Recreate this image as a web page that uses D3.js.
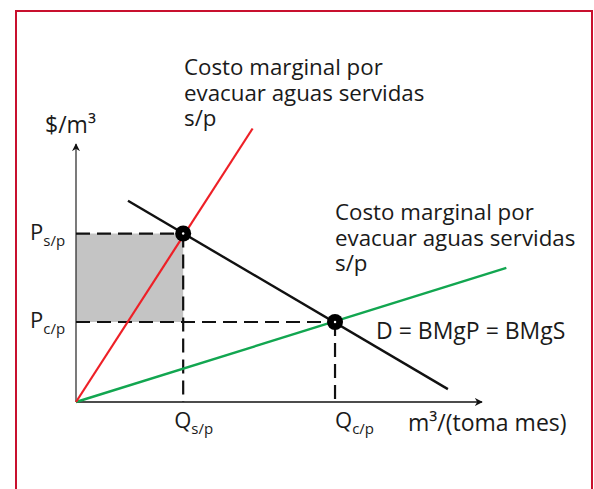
<!DOCTYPE html>
<html lang="es">
<head>
<meta charset="UTF-8">
<title>costo marginal</title>
<script src="https://d3js.org/d3.v7.min.js"></script>
<style>
  html, body { margin: 0; padding: 0; background: #fff; }
  text { font-family: "Open Sans", "Noto Sans", sans-serif; fill: #1a1a1a; }
</style>
</head>
<body>
<div id="chart"></div>
<script>
// data, in abstract units (0-100 on each axis)
var redLine = [[0, 0], [43.5, 106]];          // costo marginal s/p
var greenLine = [[0, 0], [106, 52]];          // costo marginal c/p
var demandLine = [[12.8, 78], [91.6, 5]];     // D = BMgP = BMgS
var qLabels = ["s/p", "c/p"];
var qValues = [26.4, 63.8];
var pValues = [65.3, 31];
var labelTop = ["Costo marginal por", "evacuar aguas servidas", "s/p"];
var labelRight = ["Costo marginal por", "evacuar aguas servidas", "s/p"];

var W = 594, H = 489;
var svg = d3.select("#chart").append("svg")
    .attr("width", W).attr("height", H);

// frame
svg.append("rect")
    .attr("x", 16).attr("y", 11)
    .attr("width", 576).attr("height", 600)
    .attr("fill", "none")
    .attr("stroke", "#c8102e")
    .attr("stroke-width", 2);

var x = d3.scaleLinear().domain([0, 100]).range([76, 482]);
var y = d3.scaleLinear().domain([0, 100]).range([402, 144]);

var line = d3.line()
    .x(function(d) { return x(d[0]); })
    .y(function(d) { return y(d[1]); });

// shaded area between prices
svg.append("rect")
    .attr("x", x(0))
    .attr("y", y(pValues[0]))
    .attr("width", x(qValues[0]) - x(0))
    .attr("height", y(pValues[1]) - y(pValues[0]))
    .attr("fill", "#c4c4c4");

// arrow marker
svg.append("defs").append("marker")
    .attr("id", "arr")
    .attr("viewBox", "0 0 10 10")
    .attr("refX", 9).attr("refY", 5)
    .attr("markerWidth", 8).attr("markerHeight", 8)
    .attr("markerUnits", "userSpaceOnUse")
    .attr("orient", "auto")
    .append("path")
    .attr("d", "M0,0 L10,5 L0,10 L3,5 Z")
    .attr("fill", "#111");

// axes
svg.append("line")
    .attr("x1", x(0)).attr("y1", y(0))
    .attr("x2", x(0)).attr("y2", 144)
    .attr("stroke", "#333").attr("stroke-width", 1.3)
    .attr("marker-end", "url(#arr)");
svg.append("line")
    .attr("x1", x(0)).attr("y1", y(0))
    .attr("x2", 482).attr("y2", y(0))
    .attr("stroke", "#111").attr("stroke-width", 1.6)
    .attr("marker-end", "url(#arr)");

// dashed guides
qValues.forEach(function(q, i) {
    svg.append("line")
        .attr("x1", x(0)).attr("y1", y(pValues[i]))
        .attr("x2", x(q)).attr("y2", y(pValues[i]))
        .attr("stroke", "#111").attr("stroke-width", 2.2)
        .attr("stroke-dasharray", "14,7");
    svg.append("line")
        .attr("x1", x(q)).attr("y1", y(pValues[i]))
        .attr("x2", x(q)).attr("y2", y(0))
        .attr("stroke", "#111").attr("stroke-width", 2.2)
        .attr("stroke-dasharray", "14,7");
});

// curves
svg.append("path").datum(greenLine).attr("d", line)
    .attr("fill", "none").attr("stroke", "#12a650").attr("stroke-width", 2.4);
svg.append("path").datum(redLine).attr("d", line)
    .attr("fill", "none").attr("stroke", "#ee2027").attr("stroke-width", 2.2);
svg.append("path").datum(demandLine).attr("d", line)
    .attr("fill", "none").attr("stroke", "#111").attr("stroke-width", 2.4);

// equilibrium points
qValues.forEach(function(q, i) {
    svg.append("circle")
        .attr("cx", x(q)).attr("cy", y(pValues[i]))
        .attr("r", 8).attr("fill", "#000");
    svg.append("circle")
        .attr("cx", x(q)).attr("cy", y(pValues[i]))
        .attr("r", 1.2).attr("fill", "#fff");
});

// multi-line labels, one text per line
function block(lines, x0, y0) {
    lines.forEach(function(s, i) {
        svg.append("text").attr("font-size", 22.3)
            .attr("x", x0).attr("y", y0 + i * 25.5).text(s);
    });
}
block(labelTop, 184, 75);
block(labelRight, 335, 220);

svg.append("text").attr("x", 376).attr("y", 339)
    .attr("font-size", 23).text("D = BMgP = BMgS");

svg.append("text").attr("x", 45).attr("y", 133)
    .attr("font-size", 23).text("$/m³");

svg.append("text").attr("x", 408).attr("y", 431)
    .attr("font-size", 23).text("m³/(toma mes)");

// P labels on y axis
pValues.forEach(function(p, i) {
    var t = svg.append("text").attr("x", 30).attr("y", y(p) - 2 + 8)
        .attr("font-size", 22).text("P");
    t.append("tspan").attr("font-size", 15).attr("dy", 6).text(qLabels[i]);
});

// Q labels on x axis
qValues.forEach(function(q, i) {
    var t = svg.append("text").attr("x", x(q) + (i === 0 ? -9 : 0)).attr("y", 428)
        .attr("font-size", 22).text("Q");
    t.append("tspan").attr("font-size", 15).attr("dy", 6).text(qLabels[i]);
});
</script>
</body>
</html>
